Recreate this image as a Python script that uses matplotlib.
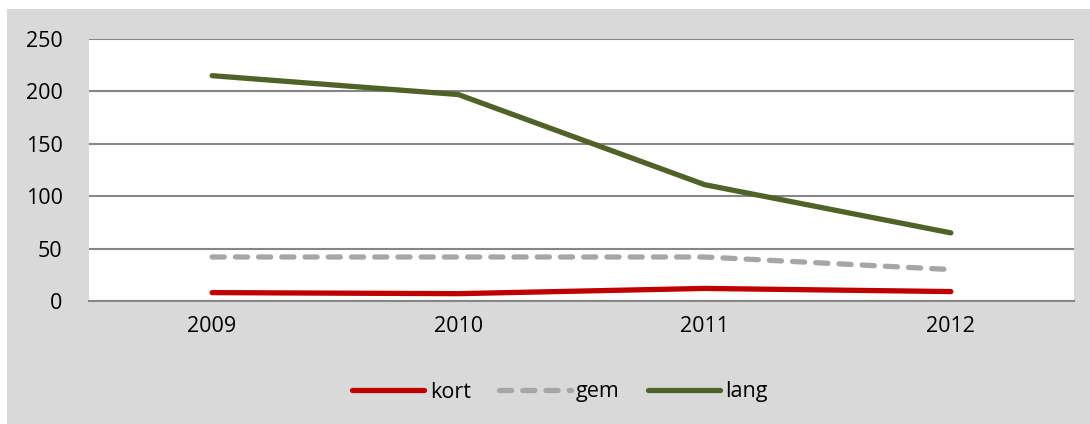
import matplotlib.pyplot as plt
from matplotlib.patches import Rectangle

years = ["2009", "2010", "2011", "2012"]
kort = [8, 7, 12, 9]
gem = [42, 42, 42, 30]
lang = [215, 197, 111, 65]


def main():
    plt.rcParams['font.family'] = ['Open Sans', 'DejaVu Sans']
    fig = plt.figure(figsize=(10.9, 4.24), dpi=100, facecolor='white')
    fig.patches.append(Rectangle((7 / 1090, 0), 1 - 7 / 1090, 1 - 9 / 424,
                                 transform=fig.transFigure, facecolor='#d9d9d9',
                                 edgecolor='none', zorder=-10))

    ax = fig.add_axes([89 / 1090, 1 - 301 / 424, (1074 - 89) / 1090, (301 - 39) / 424])
    ax.set_facecolor('white')

    x = range(len(years))
    ax.plot(x, kort, color='#c00000', lw=3.8, solid_capstyle='round', label='kort', zorder=3)
    ax.plot(x, gem, color='#a6a6a6', lw=3.8, dashes=(2.3, 2.1), dash_capstyle='round',
            label='gem', zorder=3)
    ax.plot(x, lang, color='#4f6228', lw=3.8, solid_capstyle='round', label='lang', zorder=3)

    ax.set_xlim(-0.5, len(years) - 0.5)
    ax.set_ylim(0, 250)
    ax.set_yticks(range(0, 251, 50))
    ax.set_xticks(list(x))
    ax.set_xticklabels(years)
    ax.yaxis.grid(True, color='#868686', lw=1.5)
    ax.set_axisbelow(True)
    for side in ['top', 'left', 'right']:
        ax.spines[side].set_visible(False)
    ax.spines['bottom'].set_color('#868686')
    ax.spines['bottom'].set_linewidth(1.5)
    ax.tick_params(axis='both', length=0, labelsize=15.5, colors='black')
    ax.tick_params(axis='y', pad=19)
    ax.tick_params(axis='x', pad=11)

    fig.legend(loc='center', bbox_to_anchor=(560 / 1090, 1 - 392 / 424), ncol=3,
               frameon=False, fontsize=15.5, handlelength=3.35, handletextpad=0.25,
               columnspacing=1.3)

    fig.savefig('out.png', dpi=100, facecolor=fig.get_facecolor())


if __name__ == "__main__":
    main()
